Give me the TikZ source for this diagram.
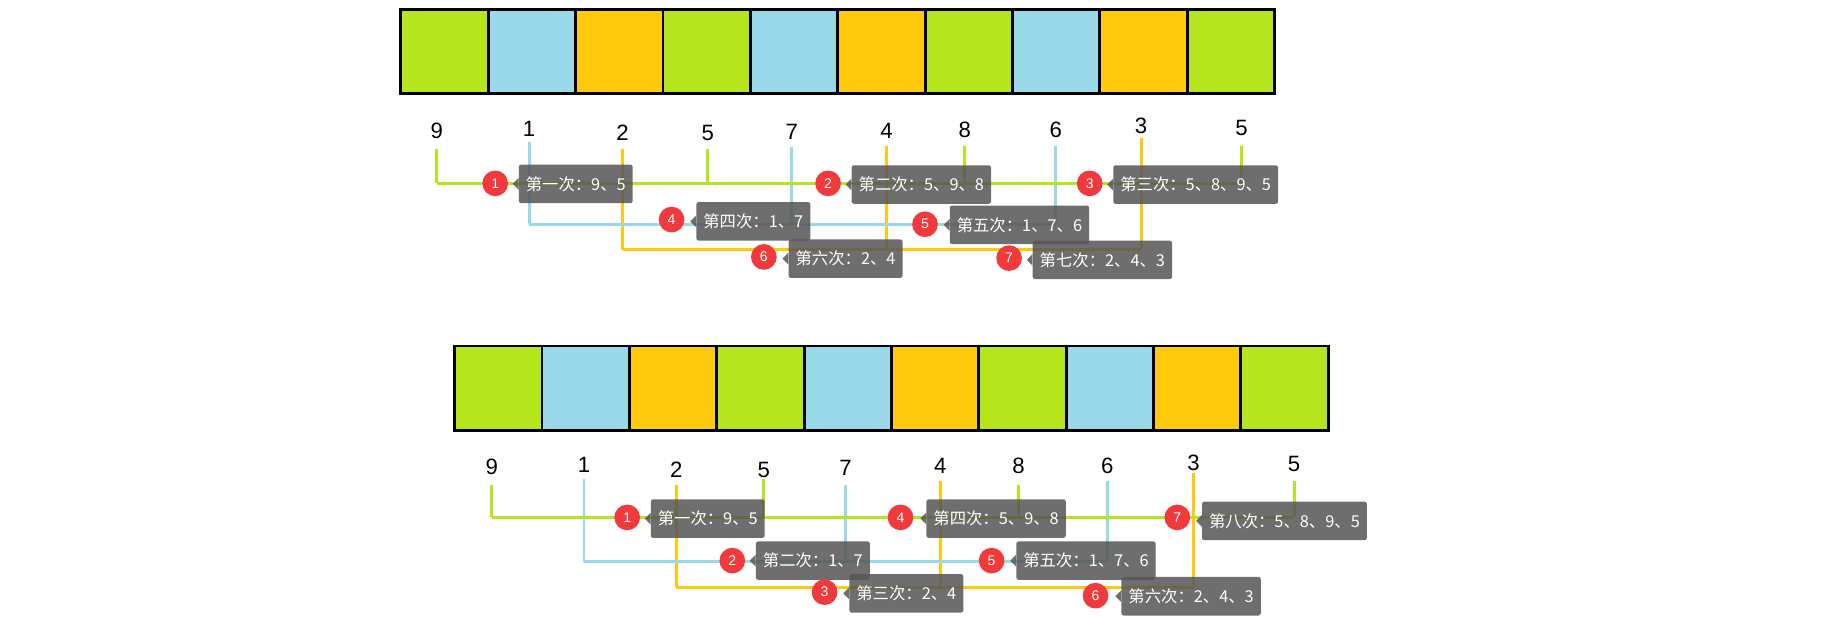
\documentclass[tikz,border=0pt]{standalone}
\usepackage{fontspec}
\setmainfont{Liberation Sans}
\newfontfamily\cjk{Noto Sans CJK SC}
\definecolor{cg}{HTML}{B5E61D}
\definecolor{cb}{HTML}{99D9EA}
\definecolor{co}{HTML}{FFC90E}
\definecolor{cr}{HTML}{F23A3C}
\definecolor{tipc}{HTML}{555555}
\begin{document}
\begin{tikzpicture}[x=1pt,y=-1pt,
  cell/.style={draw=black,line width=2.5pt,minimum width=74.8pt,minimum height=72pt,inner sep=0pt,anchor=north west},
  num/.style={font=\fontsize{19}{19}\selectfont,inner sep=1pt},
  wire/.style={line width=2.5pt},
  badge/.style={circle,fill=cr,text=white,minimum size=22pt,inner sep=0pt,font=\fontsize{12}{12}\selectfont},
  tip/.style={fill=tipc,fill opacity=0.85,text opacity=1,text=white,rounded corners=2pt,anchor=west,minimum height=33pt,inner xsep=6pt,inner ysep=0pt,font=\cjk\fontsize{14}{14}\selectfont}]
\useasboundingbox (0,0) rectangle (1560,540);
% rows of cells
\foreach \row/\x/\y in {t/342/7, b/388/295}{
  \foreach \i/\c in {0/cg,1/cb,2/co,3/cg,4/cb,5/co,6/cg,7/cb,8/co,9/cg}{
    \node[cell,fill=\c] (\row c\i) at ({\x+\i*74.8},\y) {};
  }
}
% top numbers and wires
\foreach \n/\x/\t/\c/\ya/\yb [count=\k] in {9/374/112/cg/128/157, 1/453/110/cb/122/192, 2/533/114/co/128/214, 5/606/114/cg/128/157, 7/678/113/cb/126/192, 4/759/112/co/125/214, 8/826/111/cg/125/157, 6/904/111/cb/125/192, 3/977/108/co/118/214, 5/1063/110/cg/125/157}{
  \node[num] (tn\k) at (\x,\t) {\n};
  \coordinate (ta\k) at (\x,\ya);
  \coordinate (tb\k) at (\x,\yb);
  \draw[wire,\c] (ta\k) -- (tb\k);
}
\draw[wire,cg] (tb1) -- (tb10);
\draw[wire,cb] (tb2) -- (tb8);
\draw[wire,co] (tb3) -- (tb9);
% bottom numbers and wires
\foreach \n/\x/\t/\c/\ya/\yb [count=\k] in {9/421/400/cg/415/443, 1/500/398/cb/410/481, 2/579/402/co/415/503, 5/654/402/cg/410/443, 7/724/401/cb/415/481, 4/805/399/co/412/503, 8/872/399/cg/415/443, 6/948/399/cb/412/481, 3/1022/396/co/405/503, 5/1108/397/cg/412/443}{
  \node[num] (bn\k) at (\x,\t) {\n};
  \coordinate (ba\k) at (\x,\ya);
  \coordinate (bb\k) at (\x,\yb);
  \draw[wire,\c] (ba\k) -- (bb\k);
}
\draw[wire,cg] (bb1) -- (bb10);
\draw[wire,cb] (bb2) -- (bb8);
\draw[wire,co] (bb3) -- (bb9);
% badges and tooltips
\foreach \id/\b/\bx/\by/\tx/\ty/\txt in {
  t1/1/424/157/444/157.5/{第一次：9、5},
  t2/2/709/157/729/158/{第二次：5、9、8},
  t3/3/933/157/953/158/{第三次：5、8、9、5},
  t4/4/575/188/596/189.5/{第四次：1、7},
  t5/5/792/192/813/192.5/{第五次：1、7、6},
  t6/6/654/220/675/221.5/{第六次：2、4},
  t7/7/864/221/884/222.5/{第七次：2、4、3},
  b1/1/537/443/557/444/{第一次：9、5},
  b4/4/771/443/793/444/{第四次：5、9、8},
  b7/7/1008/443/1029/446/{第八次：5、8、9、5},
  b2/2/627/480/647/480/{第二次：1、7},
  b5/5/849/480/870/480/{第五次：1、7、6},
  b3/3/706/507/727/508/{第三次：2、4},
  b6/6/938/510/960/510.5/{第六次：2、4、3}}{
  \node[badge] (g\id) at (\bx,\by) {\b};
  \node[tip] (p\id) at (\tx,\ty) {\txt};
  \fill[tipc,fill opacity=0.85] (p\id.west) ++(0,-5) -- ++(-5,5) -- ++(5,5) -- cycle;
}
\end{tikzpicture}
\end{document}
